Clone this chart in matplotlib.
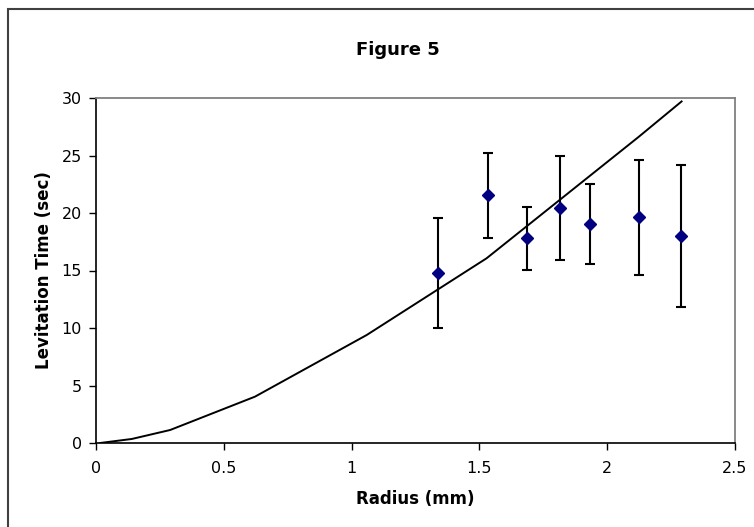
import matplotlib
matplotlib.use("Agg")
import matplotlib.pyplot as plt
from matplotlib.patches import Rectangle

# theory curve (radius mm, levitation time s)
curve_r = [0.016, 0.14, 0.29, 0.622, 1.059, 1.528, 2.122, 2.291]
curve_t = [0.0, 0.35, 1.13, 4.03, 9.39, 16.06, 26.6, 29.7]

# measurements with error bars
meas_r = [1.339, 1.532, 1.686, 1.817, 1.931, 2.124, 2.289]
meas_t = [14.8, 21.55, 17.8, 20.45, 19.05, 19.65, 18.0]
meas_err = [4.8, 3.7, 2.75, 4.5, 3.45, 5.0, 6.15]

xticks = [0, 0.5, 1, 1.5, 2, 2.5]
yticks = [0, 5, 10, 15, 20, 25, 30]

plt.rcParams['font.family'] = ['DejaVu Sans']

fig = plt.figure(figsize=(7.54, 5.27), dpi=100)
fig.patches.append(Rectangle((8 / 754, -0.01), 1.0, 1 - 9 / 527 + 0.01,
                             transform=fig.transFigure, fill=False,
                             edgecolor='#404040', linewidth=1.5))

ax = fig.add_axes([96 / 754, (527 - 443) / 527, 639 / 754, 345 / 527])

ax.plot(curve_r, curve_t, color='black', linewidth=1.4, zorder=2)
ax.errorbar(meas_r, meas_t, yerr=meas_err, fmt='D', color='#000080',
            markersize=6.5, ecolor='black', elinewidth=1.5, capsize=3.6,
            capthick=1.5, zorder=3)

ax.set_xlim(0, 2.5)
ax.set_ylim(0, 30)
ax.set_xticks(xticks)
ax.set_xticklabels([f"{v:g}" for v in xticks])
ax.set_yticks(yticks)
ax.tick_params(direction='out', length=5, width=1, labelsize=11.5,
               colors='black', pad=5)
ax.tick_params(axis='x', pad=8)

for s in ('top', 'right'):
    ax.spines[s].set_color('#808080')
    ax.spines[s].set_linewidth(1.3)
for s in ('left', 'bottom'):
    ax.spines[s].set_color('black')
    ax.spines[s].set_linewidth(1.2)

ax.set_xlabel('Radius (mm)', fontsize=12, fontweight='bold', labelpad=10)
ax.set_ylabel('Levitation Time (sec)', fontsize=12, fontweight='bold', labelpad=6)

fig.text(398 / 754, 1 - 50 / 527, 'Figure 5', fontsize=13, fontweight='bold',
         ha='center', va='center')

fig.savefig('out.png', dpi=100)
